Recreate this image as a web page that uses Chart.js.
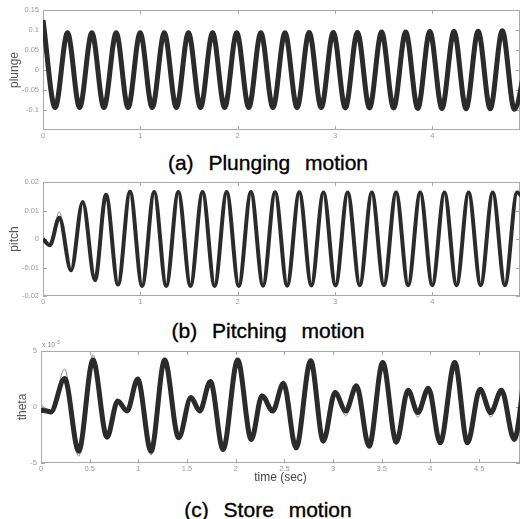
<!DOCTYPE html>
<html>
<head>
<meta charset="utf-8">
<script src="https://cdn.jsdelivr.net/npm/chart.js@4.4.1/dist/chart.umd.min.js"></script>
<style>
  body { margin: 0; background: #fff; }
  #wrap { position: relative; width: 522px; height: 519px; overflow: hidden; background: #fff; }
  canvas { position: absolute; left: 0; }
  .cap { position: absolute; left: 0; width: 536px; text-align: center; font-family: "Liberation Sans", Arial, sans-serif;
         font-size: 21px; line-height: 24px; color: #000; word-spacing: 9px; white-space: nowrap;
         -webkit-text-stroke: 0.35px #000; }
  .exp { position: absolute; left: 42px; top: 339px; font-family: "Liberation Sans", sans-serif; font-size: 7px; color: #888; }
  .exp sup { font-size: 5px; }
</style>
</head>
<body>
<div id="wrap">
  <canvas id="plungeChart" width="522" height="142" style="top:0px"></canvas>
  <div class="cap" style="top:151px">(a) Plunging motion</div>
  <canvas id="pitchChart" width="522" height="140" style="top:170px"></canvas>
  <div class="cap" style="top:319px">(b) Pitching motion</div>
  <canvas id="thetaChart" width="522" height="146" style="top:340px"></canvas>
  <div class="exp">x 10<sup>-3</sup></div>
  <div class="cap" style="top:498px">(c) Store motion</div>
</div>
<script>
// plunge
var plungeTime = [0, 0.125, 0.252, 0.376, 0.502, 0.626, 0.752, 0.874, 0.998, 1.122, 1.246, 1.37, 1.494, 1.618, 1.742, 1.866,
  1.99, 2.114, 2.238, 2.362, 2.486, 2.61, 2.734, 2.858, 2.982, 3.106, 3.23, 3.354, 3.478, 3.602, 3.726, 3.85, 3.974, 4.098,
  4.222, 4.346, 4.47, 4.594, 4.718, 4.842, 4.97];
var plungeVals = [0.125, -0.094, 0.093, -0.094, 0.093, -0.094, 0.093, -0.094, 0.093, -0.094, 0.093, -0.094, 0.093, -0.094, 0.093, -0.094,
  0.093, -0.094, 0.093, -0.094, 0.093, -0.094, 0.094, -0.094, 0.094, -0.095, 0.094, -0.095, 0.095, -0.095, 0.095, -0.096, 0.096, -0.096,
  0.096, -0.097, 0.097, -0.097, 0.098, -0.098, 0.03];

// pitch (panel b)
var pitchTime = [0, 0.07, 0.168, 0.288, 0.408, 0.534, 0.647, 0.771, 0.894, 1.018, 1.142, 1.266, 1.39, 1.515, 1.639, 1.763, 1.887,
  2.011, 2.136, 2.26, 2.384, 2.508, 2.633, 2.757, 2.881, 3.005, 3.13, 3.254, 3.378, 3.502, 3.627, 3.751, 3.875, 3.999, 4.124,
  4.248, 4.372, 4.496, 4.62, 4.745, 4.87, 4.97];
var pitchVals = [0, -0.0022, 0.0075, -0.011, 0.013, -0.0145, 0.0155, -0.016, 0.0166, -0.0165, 0.0165, -0.0165, 0.0165, -0.0165,
  0.0165, -0.0165, 0.0165, -0.0165, 0.0165, -0.0164, 0.0164, -0.0164, 0.0164, -0.0163, 0.0163, -0.0163, 0.0163, -0.0162, 0.0163,
  -0.0162, 0.0163, -0.0162, 0.0163, -0.0162, 0.0163, -0.0162, 0.0163, -0.0162, 0.0163, -0.0162, 0.0163, 0.012];
var pitchRef = [0, -0.002, 0.0095, -0.0115, 0.0135, -0.0147, 0.0156, -0.016, 0.0166, -0.0165, 0.0165, -0.0165, 0.0165, -0.0165,
  0.0165, -0.0165, 0.0165, -0.0165, 0.0165, -0.0164, 0.0164, -0.0164, 0.0164, -0.0163, 0.0163, -0.0163, 0.0163, -0.0162, 0.0163,
  -0.0162, 0.0163, -0.0162, 0.0163, -0.0162, 0.0163, -0.0162, 0.0163, -0.0162, 0.0163, -0.0162, 0.0163, 0.012];

// theta, units of 1e-3 (panel c)
var thetaTime = [0, 0.06, 0.1, 0.243, 0.387, 0.534, 0.678, 0.788, 0.884, 0.993, 1.13, 1.27, 1.414, 1.54, 1.63, 1.74, 1.87, 2.02,
  2.16, 2.27, 2.38, 2.49, 2.62, 2.77, 2.9, 3.02, 3.13, 3.24, 3.37, 3.51, 3.65, 3.77, 3.87, 3.98, 4.1, 4.25, 4.38, 4.51, 4.62,
  4.73, 4.86, 4.98];
var thetaVals = [-0.3, -0.35, -0.45, 2.54, -3.95, 4.19, -2.7, 0.54, -0.36, 2.49, -3.95, 4.19, -2.75, 0.84, -0.36, 2.28, -3.8, 4.19,
  -2.9, 1.0, -0.36, 2.13, -3.65, 4.13, -3.05, 1.29, -0.36, 1.89, -3.5, 3.98, -3.14, 1.5, -0.5, 1.68, -3.2, 3.98, -3.2, 1.59, -0.5,
  1.5, -2.9, 3.8];
var thetaRef = [0.2, -0.2, -0.4, 3.4, -4.4, 4.67, -2.8, 0.6, -0.4, 2.55, -4.3, 4.25, -2.8, 0.85, -0.4, 2.3, -3.85, 4.2,
  -2.95, 1.0, -0.4, 2.15, -3.7, 4.15, -3.1, 1.3, -0.8, 1.9, -3.55, 4.0, -3.2, 1.5, -0.9, 1.7, -3.25, 4.0, -3.25, 1.6, -0.9,
  1.5, -2.95, 3.8];

// ticks
var xTicksA = [0, 1, 2, 3, 4];
var xTicksC = [0, 0.5, 1, 1.5, 2, 2.5, 3, 3.5, 4, 4.5];
var plungeTicks = [0.15, 0.1, 0.05, 0, -0.05, -0.1];
var pitchTicks = [0.02, 0.01, 0, -0.01, -0.02];
var thetaTicks = [5, 0, -5];

function pts(ts, vs) {
  return ts.map(function (t, i) { return { x: t, y: vs[i] }; });
}

// matlab style box with inward ticks
var boxTicks = {
  id: 'boxTicks',
  beforeDatasetsDraw: function (chart) {
    var ctx = chart.ctx, a = chart.chartArea, x = chart.scales.x, y = chart.scales.y;
    ctx.save();
    ctx.strokeStyle = '#a8a8a8';
    ctx.lineWidth = 1;
    ctx.strokeRect(a.left + 0.5, a.top + 0.5, a.right - a.left - 1, a.bottom - a.top - 1);
    ctx.beginPath();
    x.ticks.forEach(function (t) {
      var px = Math.round(x.getPixelForValue(t.value)) + 0.5;
      ctx.moveTo(px, a.top); ctx.lineTo(px, a.top + 4);
      ctx.moveTo(px, a.bottom); ctx.lineTo(px, a.bottom - 4);
    });
    y.ticks.forEach(function (t) {
      var py = Math.round(y.getPixelForValue(t.value)) + 0.5;
      ctx.moveTo(a.left, py); ctx.lineTo(a.left + 4, py);
      ctx.moveTo(a.right, py); ctx.lineTo(a.right - 4, py);
    });
    ctx.stroke();
    ctx.restore();
  }
};

var tickFont = { family: 'Liberation Sans', size: 7.5 };

function makeChart(id, cfg) {
  // thick simulated curve on top, thin reference curve underneath
  var datasets = [{ data: cfg.data, borderColor: '#2b2b2b', borderWidth: cfg.lw, pointRadius: 0,
    cubicInterpolationMode: 'monotone', clip: 0, order: 1 }];
  if (cfg.ref) {
    datasets.push({ data: cfg.ref, borderColor: '#8a8a8a', borderWidth: 1, pointRadius: 0,
      cubicInterpolationMode: 'monotone', clip: 0, order: 2 });
  }

  return new Chart(document.getElementById(id), {
    type: 'line',
    data: { datasets: datasets },
    plugins: [boxTicks],
    options: {
      responsive: false,
      animation: false,
      layout: { padding: { top: cfg.padTop, right: 2, left: 0, bottom: 0 } },
      plugins: { legend: { display: false }, tooltip: { enabled: false } },
      scales: {
        x: {
          type: 'linear', min: 0, max: cfg.xMax,
          grid: { display: false, drawTicks: false }, border: { display: false },
          afterBuildTicks: function (s) { s.ticks = cfg.xTicks.map(function (v) { return { value: v }; }); },
          afterFit: function (s) { s.height = cfg.xH; },
          ticks: { font: tickFont, color: '#999', padding: 1, maxRotation: 0, autoSkip: false,
            callback: function (v) { return String(v); } },
          title: cfg.xTitle ? { display: true, text: cfg.xTitle, color: '#444',
            font: { family: 'Liberation Sans', size: 12 }, padding: { top: 0, bottom: 1 } } : { display: false }
        },
        y: {
          type: 'linear', min: cfg.yMin, max: cfg.yMax,
          grid: { display: false, drawTicks: false }, border: { display: false },
          afterBuildTicks: function (s) { s.ticks = cfg.yTicks.map(function (v) { return { value: v }; }); },
          afterFit: function (s) { s.width = cfg.yW; },
          ticks: { font: tickFont, color: '#999', padding: 4, autoSkip: false,
            callback: function (v) { return String(v); } },
          title: { display: true, text: cfg.yTitle, color: '#555',
            font: { family: 'Liberation Sans', size: 12 }, padding: { top: cfg.yTitlePad, bottom: 0 } }
        }
      }
    }
  });
}

var plungeChart = makeChart('plungeChart', {
  data: pts(plungeTime, plungeVals), lw: 5,
  xMax: 4.9, xTicks: xTicksA, xH: 12, padTop: 10,
  yMin: -0.15, yMax: 0.15, yTicks: plungeTicks, yW: 43, yTitle: 'plunge', yTitlePad: 7
});

var pitchChart = makeChart('pitchChart', {
  data: pts(pitchTime, pitchVals), ref: pts(pitchTime, pitchRef), lw: 4,
  xMax: 4.9, xTicks: xTicksA, xH: 14, padTop: 12,
  yMin: -0.02, yMax: 0.02, yTicks: pitchTicks, yW: 43, yTitle: 'pitch', yTitlePad: 7
});

var thetaChart = makeChart('thetaChart', {
  data: pts(thetaTime, thetaVals), ref: pts(thetaTime, thetaRef), lw: 5,
  xMax: 4.92, xTicks: xTicksC, xH: 23, padTop: 11, xTitle: 'time (sec)',
  yMin: -5, yMax: 5, yTicks: thetaTicks, yW: 41, yTitle: 'theta', yTitlePad: 15
});
</script>
</body>
</html>
